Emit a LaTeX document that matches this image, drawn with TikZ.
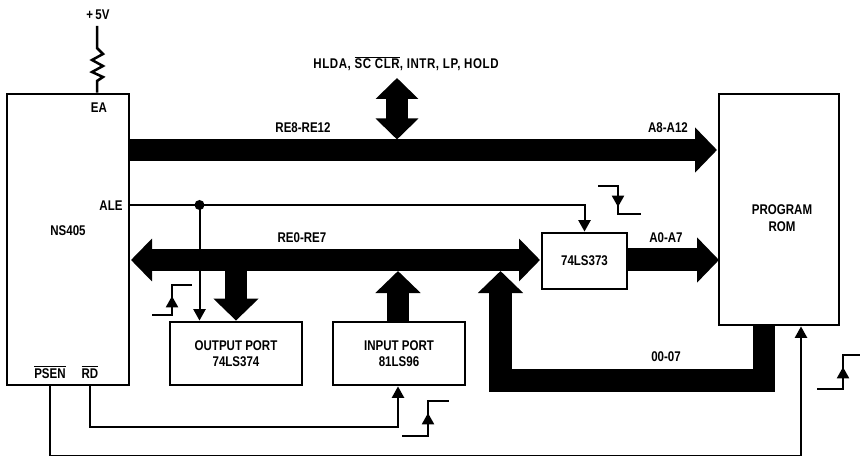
\documentclass[tikz,border=0pt]{standalone}
\usepackage{fontspec}
\setmainfont{Liberation Sans}[FakeStretch=0.82]
\usepackage{tikz}
\usetikzlibrary{arrows.meta, positioning}

\begin{document}
\begin{tikzpicture}[x=0.03cm, y=-0.03cm,
  box/.style={draw, line width=0.085cm, inner sep=0pt, align=center},
  txt/.style={inner sep=0pt, align=center},
  sig/.style={line width=0.075cm},
  sigarr/.style={line width=0.06cm, -{Triangle[length=0.34cm, width=0.36cm]}},
  bus/.style={line width=0.65cm, -{Triangle[length=0.66cm, width=1.32cm]}},
  dbus/.style={line width=0.65cm, {Triangle[length=0.63cm, width=1.25cm]}-{Triangle[length=0.63cm, width=1.25cm]}},
  every node/.append style={font=\bfseries\fontsize{12}{14}\selectfont}]
  \useasboundingbox (0,0) rectangle (860,456);
  \clip (0,0) rectangle (860,456);

  \node[box, minimum width=3.66cm, minimum height=8.73cm] (ns) at (68,239.5) {};
  \node[box, minimum width=3.6cm, minimum height=6.93cm] (rom) at (779,209.5) {};
  \node[box, minimum width=2.55cm, minimum height=1.68cm] (latch) at (584.5,261) {74LS373};
  \node[box, minimum width=3.96cm, minimum height=1.89cm] (outp) at (236,353.5) {OUTPUT PORT\\74LS374};
  \node[box, minimum width=3.96cm, minimum height=1.89cm] (inp) at (399,353.5) {INPUT PORT\\81LS96};

  \node[txt] (nslabel) at (68,231) {NS405};
  \node[txt] (romlabel) at (782,218) {PROGRAM\\ROM};
  \node[txt] (vcclabel) at (98,15) {+\,5V};
  \node[txt] (ea) at (99,108) {EA};
  \node[txt] (ale) at (111,206) {ALE};
  \node[txt] (psen) at (50,372) {$\overline{\hbox{PSEN}}$};
  \node[txt] (rd) at (90,372) {$\overline{\hbox{RD}}$};
  \node[txt] (ctrl) at (406,64) {\addfontfeature{LetterSpace=4}HLDA, $\overline{\hbox{SC CLR}}$, INTR, LP, HOLD};
  \node[txt] (hibus) at (303,128) {RE8-RE12};
  \node[txt] (hiaddr) at (668,128) {A8-A12};
  \node[txt] (lobus) at (302,238) {RE0-RE7};
  \node[txt] (loaddr) at (666,238) {A0-A7};
  \node[txt] (data) at (666,357) {00-07};

  \coordinate (vcc) at (97,26);
  \coordinate (a8) at (717,150);
  \coordinate (a0) at (719,260);
  \coordinate (re8top) at (397,78);
  \coordinate (re8in) at (397,139.5);
  \coordinate (re0left) at (131,260);
  \coordinate (re0right) at (540,260);
  \coordinate (outtap) at (236,255);
  \coordinate (intap) at (398,271);
  \coordinate (datatap) at (500.5,271);
  \coordinate (dot) at (199.5,205);
  \coordinate (romout) at (764,325);
  \coordinate (corner) at (500.5,380.5);
  \coordinate (rdin) at (398,427);
  \coordinate (psenin) at (801,456);

  \draw[sig] (vcc) -- (97,48) -- (103,54) -- (92,60) -- (103,66) -- (92,72) -- (103,77) -- (97,81) -- (ns.north -| vcc);

  \draw[bus] (ns.east |- a8) -- (a8);
  \draw[dbus] (re8top) -- (re8in);
  \draw[dbus] (re0left) -- (re0right);
  \draw[bus, line width=0.69cm] (latch.east |- a0) -- (a0);
  \draw[bus] (outtap) -- (outp.north -| outtap);
  \draw[bus] (inp.north -| intap) -- (intap);
  \draw[bus, line width=0.67cm] (romout) |- (corner) -- (datatap);

  \draw[sigarr] (ns.east |- dot) -| (latch.north);
  \draw[sigarr] (dot) -- (outp.north -| dot);
  \fill (dot) circle[radius=0.15cm];
  \draw[sigarr] (rd.center |- ns.south) |- (rdin) -- (inp.south -| rdin);
  \draw[sigarr] (psen.center |- ns.south) |- (psenin) -- (rom.south -| psenin);

  \draw[sig] (152,315) -| (172,285) -- (192,285);
  \draw[sigarr] (172,310) -- (172,296);
  \draw[sig] (402,436) -| (428,401) -- (449,401);
  \draw[sigarr] (428,428) -- (428,413);
  \draw[sig] (817,389) -| (843,355) -- (860,355);
  \draw[sigarr] (843,378) -- (843,367);
  \draw[sig] (598,186) -| (618,214) -- (641,214);
  \draw[sigarr] (618,192) -- (618,207);
\end{tikzpicture}
\end{document}
